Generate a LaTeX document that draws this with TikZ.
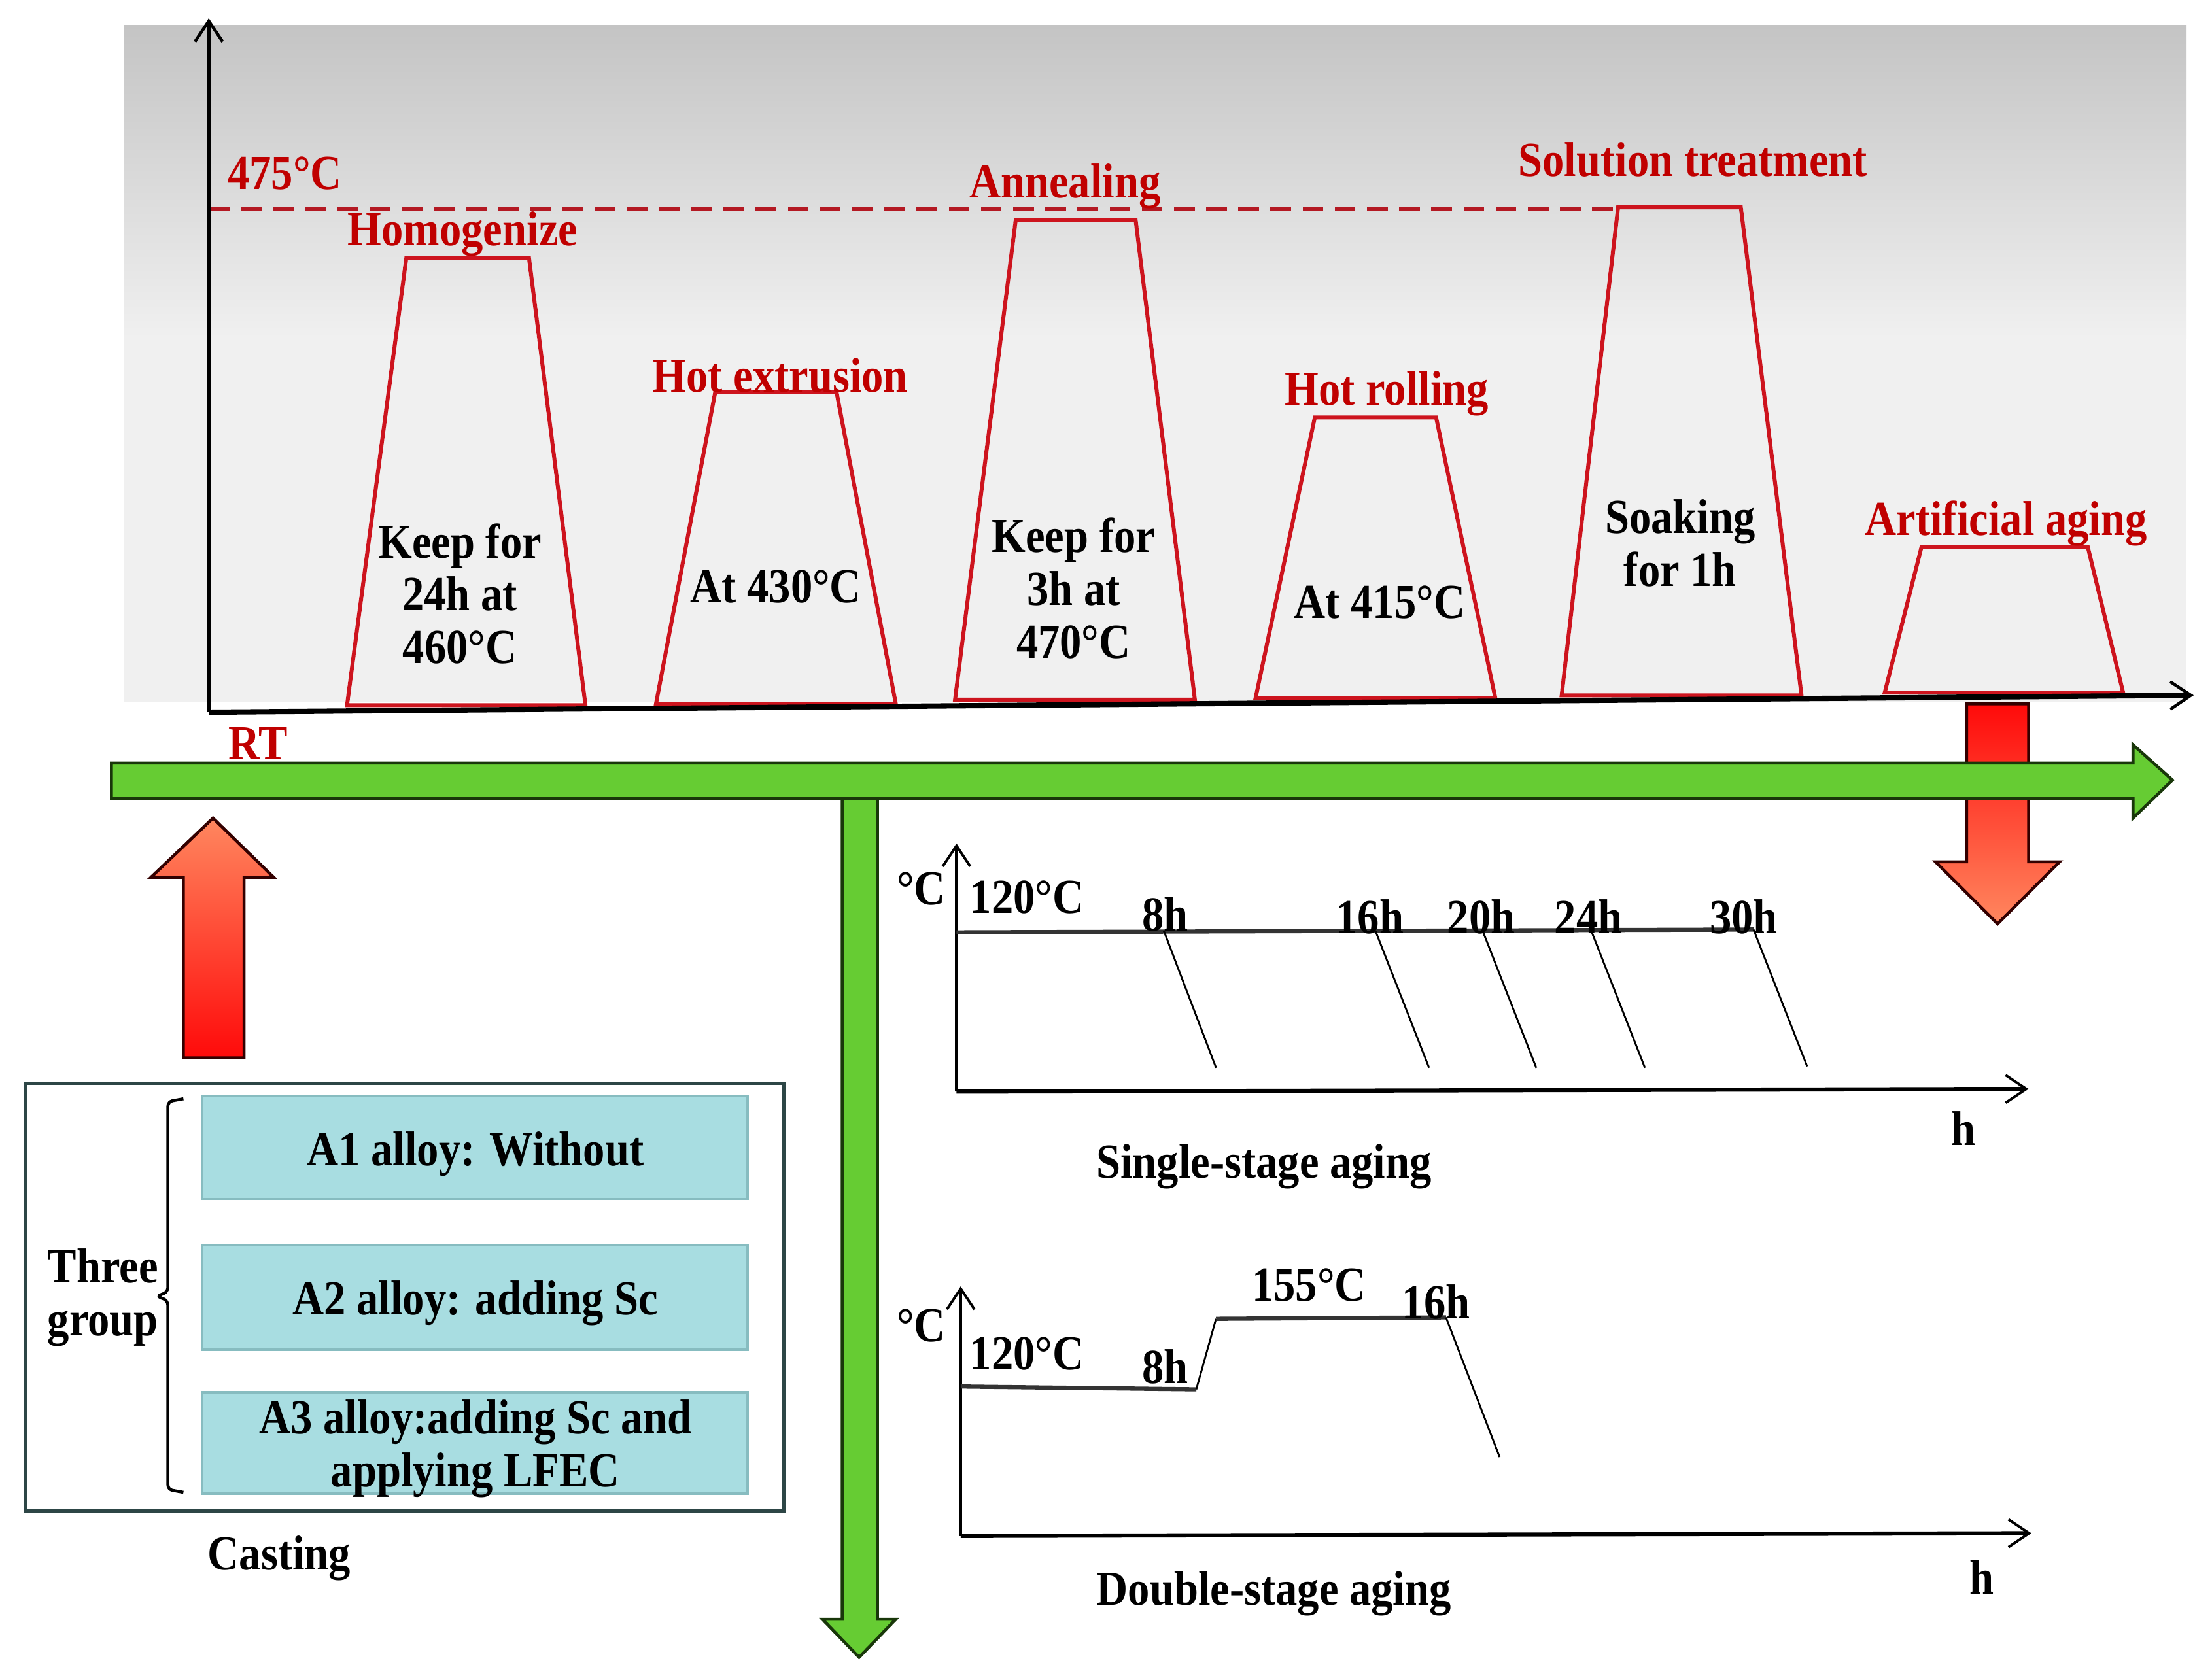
\documentclass[tikz,border=0pt]{standalone}
\usepackage{fontspec}
\setmainfont{Liberation Serif}[FakeStretch=0.89]
\usetikzlibrary{arrows.meta}
\definecolor{lbl}{RGB}{192,0,0}
\definecolor{trap}{RGB}{205,20,30}
\definecolor{dashc}{RGB}{180,25,35}
\definecolor{grn}{RGB}{102,204,51}
\definecolor{grnb}{RGB}{25,55,10}
\definecolor{boxf}{RGB}{168,221,225}
\definecolor{boxb}{RGB}{135,188,192}
\definecolor{framec}{RGB}{45,70,70}
\definecolor{bgtop}{RGB}{196,196,196}
\definecolor{bgbot}{RGB}{240,240,240}
\definecolor{redtop}{RGB}{255,10,10}
\definecolor{redbot}{RGB}{255,135,95}
\begin{document}
\begin{tikzpicture}[x={(0.02157cm,0)},y={(0,-0.02157cm)},
  every node/.style={font=\bfseries\fontsize{21.3pt}{23pt}\selectfont, inner sep=0pt, align=center, yshift=-1.8pt},
  redlbl/.style={text=lbl},
  trapz/.style={draw=trap, line width=1.7pt, line join=miter},
  mainaxis/.style={line width=1.5pt, -{Straight Barb[length=9pt,width=12pt,line width=1.3pt]}},
  chartaxis/.style={line width=1.2pt, -{Straight Barb[length=9pt,width=12pt,line width=1.1pt]}},
  level/.style={line width=1.8pt, draw=black!80},
  drop/.style={line width=0.8pt},
  greenarrow/.style={fill=grn, draw=grnb, line width=1.3pt, line join=miter},
  redarrow/.style={draw=black!80!red, line width=1.3pt, line join=miter},
  alloybox/.style={fill=boxf, draw=boxb, line width=1pt}
]
\useasboundingbox (0,0) rectangle (1568,1191);
% background
\shade[top color=bgtop, bottom color=bgbot] (88,18) rectangle (1550,240);
\fill[bgbot] (88,239) rectangle (1550,498);

% dashed 475 line
\draw[dashc, line width=1.7pt, dash pattern=on 9pt off 5pt] (148,148) -- (1148,148);

% trapezoids
\draw[trapz] (246,500) -- (288,183) -- (375,183) -- (415,500) -- cycle;
\draw[trapz] (465,499) -- (507,278) -- (593,278) -- (635,499) -- cycle;
\draw[trapz] (677,496) -- (720,156) -- (805,156) -- (847,496) -- cycle;
\draw[trapz] (890,495) -- (932,296) -- (1018,296) -- (1060,495) -- cycle;
\draw[trapz] (1107,493) -- (1147,147) -- (1234,147) -- (1277,493) -- cycle;
\draw[trapz] (1336,491) -- (1362,388) -- (1480,388) -- (1505,491) -- cycle;

% main axes
\coordinate (O) at (148,502);
\coordinate (Ytop) at (148,10);
\coordinate (Xend) at (1555,490);
\draw[mainaxis] (O) -- (Ytop);
\draw[mainaxis, line width=2.3pt] (O) -- (Xend);

% labels top chart
\node[redlbl] (t475) at (202,120) {475°C};
\node[redlbl] (homo) at (328,163) {Homogenize};
\node[redlbl] (hotex) at (553,263) {Hot extrusion};
\node[redlbl] (anneal) at (755,129) {Annealing};
\node[redlbl] (hotroll) at (983,276) {Hot rolling};
\node[redlbl] (sol) at (1200,110) {Solution treatment};
\node[redlbl] (art) at (1422,368) {Artificial aging};
\node[redlbl] (rt) at (183,524) {RT};

\node (k1) at (326,418) {Keep for\\24h at\\460°C};
\node (k2) at (550,413) {At 430°C};
\node (k3) at (761,414) {Keep for\\3h at\\470°C};
\node (k4) at (978,424) {At 415°C};
\node (k5) at (1191,382) {Soaking\\for 1h};

% red down arrow (right)
\shade[top color=redtop, bottom color=redbot] (1394,499) -- (1438,499) -- (1438,611) -- (1460,611) -- (1416,655) -- (1372,611) -- (1394,611) -- cycle;
\draw[redarrow] (1394,499) -- (1438,499) -- (1438,611) -- (1460,611) -- (1416,655) -- (1372,611) -- (1394,611) -- cycle;

% green vertical arrow
\draw[greenarrow] (597,560) -- (622,560) -- (622,1148) -- (635,1148) -- (609,1175) -- (583,1148) -- (597,1148) -- cycle;
% green horizontal arrow
\draw[greenarrow] (79,541) -- (1512,541) -- (1512,528) -- (1540,553) -- (1512,580) -- (1512,566) -- (79,566) -- cycle;

% orange up arrow (left)
\shade[top color=redbot, bottom color=redtop] (130,750) -- (130,622) -- (107,622) -- (151,580) -- (194,622) -- (173,622) -- (173,750) -- cycle;
\draw[redarrow] (130,750) -- (130,622) -- (107,622) -- (151,580) -- (194,622) -- (173,622) -- (173,750) -- cycle;

% casting box
\draw[framec, line width=1.6pt] (18,768) rectangle (556,1071);
\draw[alloybox] (143,777) rectangle (530,850);
\draw[alloybox] (143,883) rectangle (530,957);
\draw[alloybox] (143,987) rectangle (530,1059);
\node (a1) at (337,815) {A1 alloy: Without};
\node (a2) at (337,921) {A2 alloy: adding Sc};
\node (a3) at (337,1024) {A3 alloy:adding Sc and\\applying LFEC};
\draw[line width=1.3pt, rounded corners=2pt] (130,779) -- (119,781) -- (119,916) -- (111,919) -- (119,922) -- (119,1056) -- (130,1058);
\node (three) at (73,917) {Three\\group};
\node (cast) at (198,1102) {Casting};

% single-stage aging chart
\coordinate (s0) at (678,771);
\draw[chartaxis] (s0) -- (678,598);
\draw[chartaxis, line width=1.8pt] (s0) -- (1438,772);
\draw[level] (678,661) -- (1243,659);
\draw[drop] (825,660) -- (862,757);
\draw[drop] (975,660) -- (1013,757);
\draw[drop] (1051,660) -- (1089,757);
\draw[drop] (1128,660) -- (1166,757);
\draw[drop] (1243,659) -- (1281,756);
\node (sc) at (653,627) {°C};
\node (s120) at (728,633) {120°C};
\node (s8) at (826,645) {8h};
\node (s16) at (971,647) {16h};
\node (s20) at (1050,647) {20h};
\node (s24) at (1126,647) {24h};
\node (s30) at (1236,647) {30h};
\node (sh) at (1392,797) {h};
\node (single) at (896,824) {Single-stage aging};

% double-stage aging chart
\coordinate (d0) at (681,1086);
\draw[chartaxis] (d0) -- (681,912);
\draw[chartaxis, line width=1.8pt] (d0) -- (1440,1087);
\draw[level] (681,983) -- (848,985);
\draw[drop] (848,985) -- (862,935);
\draw[level] (862,935) -- (1025,934);
\draw[drop] (1025,934) -- (1063,1033);
\node (dc) at (653,937) {°C};
\node (d120) at (728,957) {120°C};
\node (d8) at (826,966) {8h};
\node (d155) at (928,908) {155°C};
\node (d16) at (1018,920) {16h};
\node (dh) at (1405,1115) {h};
\node (double) at (903,1127) {Double-stage aging};
\end{tikzpicture}
\end{document}
